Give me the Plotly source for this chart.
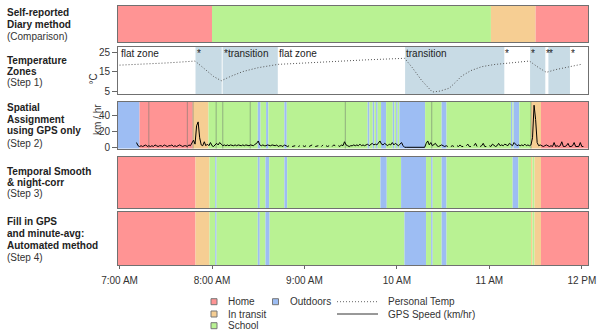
import plotly.graph_objects as go


def t(s):
    h, m = s.split(":")
    return int(h) * 60 + float(m)


# ---------------- data ----------------
X_START, X_END = "6:59", "12:04"
tick_times = ["7:00", "8:00", "9:00", "10:00", "11:00", "12:00"]
tick_labels = ["7:00 AM", "8:00 AM", "9:00 AM", "10 AM", "11 AM", "12 PM"]

categories = ["Home", "In transit", "School", "Outdoors"]
cat_colors = ["#FF9494", "#F6CE93", "#B9F293", "#9DBDF3"]

diary_segments = [
    ("6:59", "8:00", "Home"), ("8:00", "11:01", "School"),
    ("11:01", "11:30", "In transit"), ("11:30", "12:04", "Home"),
]

gps_segments = [
    ("6:59", "7:13", "Outdoors"), ("7:13", "7:47.5", "Home"),
    ("7:47.5", "7:57.7", "In transit"), ("7:57.7", "8:29.7", "School"),
    ("8:29.7", "8:31.5", "Outdoors"), ("8:31.5", "8:35.1", "School"),
    ("8:35.1", "8:36.6", "Outdoors"), ("8:36.6", "8:47", "School"),
    ("8:47", "8:48.5", "Outdoors"), ("8:48.5", "9:41", "School"),
    ("9:41", "9:42.2", "Outdoors"), ("9:42.2", "9:44.3", "School"),
    ("9:44.3", "9:45.4", "Outdoors"), ("9:45.4", "9:46.5", "School"),
    ("9:46.5", "9:47.5", "Outdoors"), ("9:47.5", "9:49.7", "School"),
    ("9:49.7", "9:53", "Outdoors"), ("9:53", "9:57.3", "School"),
    ("9:57.3", "9:58.4", "Outdoors"), ("9:58.4", "9:59.5", "School"),
    ("9:59.5", "10:00.5", "Outdoors"), ("10:00.5", "10:01.6", "School"),
    ("10:01.6", "10:18.3", "Outdoors"), ("10:18.3", "10:29", "School"),
    ("10:29", "10:32.2", "Outdoors"), ("10:32.2", "11:14", "School"),
    ("11:14", "11:15", "Outdoors"), ("11:15", "11:15.7", "School"),
    ("11:15.7", "11:19.4", "Outdoors"), ("11:19.4", "11:27", "School"),
    ("11:27", "11:33.5", "In transit"), ("11:33.5", "12:04", "Home"),
]
gps_breaks = ["7:19", "7:44", "7:47.7", "8:02.7", "8:07", "8:24.8", "9:26.5", "10:22.6", "11:27"]

smooth_segments = [
    ("6:59", "7:49.3", "Home"), ("7:49.3", "7:58.4", "In transit"),
    ("7:58.4", "8:02.1", "School"), ("8:02.1", "8:03", "Outdoors"),
    ("8:03", "8:29.7", "School"), ("8:29.7", "8:31", "Outdoors"),
    ("8:31", "8:34.7", "School"), ("8:34.7", "8:37.1", "Outdoors"),
    ("8:37.1", "8:47", "School"), ("8:47", "8:48.8", "Outdoors"),
    ("8:48.8", "9:49.3", "School"), ("9:49.3", "9:53.4", "Outdoors"),
    ("9:53.4", "10:02.7", "School"), ("10:02.7", "10:18.9", "Outdoors"),
    ("10:18.9", "10:22.2", "School"), ("10:22.2", "10:23.2", "Outdoors"),
    ("10:23.2", "10:29", "School"), ("10:29", "10:32.2", "Outdoors"),
    ("10:32.2", "11:15.1", "School"), ("11:15.1", "11:18.8", "Outdoors"),
    ("11:18.8", "11:27", "School"), ("11:27", "11:28", "In transit"),
    ("11:28", "11:29.3", "School"), ("11:29.3", "11:33.5", "In transit"),
    ("11:33.5", "12:04", "Home"),
]

auto_segments = [
    ("6:59", "7:49.3", "Home"), ("7:49.3", "7:58.4", "In transit"),
    ("7:58.4", "8:02.1", "School"), ("8:02.1", "8:03", "Outdoors"),
    ("8:03", "8:29.7", "School"), ("8:29.7", "8:31", "Outdoors"),
    ("8:31", "8:34.7", "School"), ("8:34.7", "8:37.4", "Outdoors"),
    ("8:37.4", "10:04.9", "School"), ("10:04.9", "10:18.9", "Outdoors"),
    ("10:18.9", "10:22.2", "School"), ("10:22.2", "10:23.2", "Outdoors"),
    ("10:23.2", "10:29", "School"), ("10:29", "10:32.2", "Outdoors"),
    ("10:32.2", "11:27", "School"), ("11:27", "11:28", "In transit"),
    ("11:28", "11:29.3", "School"), ("11:29.3", "11:33.5", "In transit"),
    ("11:33.5", "12:04", "Home"),
]

# temperature zones: (label, start, end, shaded)
temp_zones = [
    ("flat zone", "6:59", "7:49.3", False),
    ("*", "7:49.3", "8:06.3", True),
    ("*transition", "8:06.9", "8:42.7", True),
    ("flat zone", "8:42.7", "10:05.3", False),
    ("transition", "10:05.3", "11:09.7", True),
    ("*", "11:09.7", "11:26.4", False),
    ("*", "11:26.4", "11:36.3", True),
    ("*", "11:36.3", "11:38.3", False),
    ("*", "11:38.3", "11:52.3", True),
    ("*", "11:52.3", "12:04", False),
]

temp_times = ["7:00", "7:10", "7:20", "7:30", "7:40", "7:49", "7:55", "8:01", "8:06",
              "8:12", "8:20", "8:30", "8:43", "9:00", "9:20", "9:40", "10:05", "10:10",
              "10:16", "10:23", "10:28", "10:34", "10:38", "10:42", "10:48", "10:55",
              "11:03", "11:10", "11:18", "11:26", "11:32", "11:37", "11:43", "11:50", "11:59.5"]
temp_values = [18.3, 18.6, 19.0, 19.4, 19.9, 20.4, 16.5, 12.5, 10.3,
               12.5, 15.0, 17.0, 18.7, 19.5, 20.3, 21.0, 21.8, 17.0,
               10.5, 4.5, 5.0, 6.5, 9.5, 12.7, 15.5, 17.5,
               18.6, 19.2, 19.8, 20.4, 17.0, 14.6, 16.0, 17.3, 18.7]

gps_first_minute = "7:11"
gps_speed = [
    6, 2, 1, 2, 1, 2, 3, 1, 2, 1,
    2, 1, 3, 2, 1, 2, 2, 1, 3, 2,
    1, 2, 2, 3, 1, 2, 1, 2, 3, 2,
    1, 2, 2, 1, 3, 2, 5, 9, 4, 27,
    32, 12, 3, 2, 7, 2, 4, 2, 6, 2,
    1, 3, 5, 3, 6, 4, 2, 3, 2, 3,
    2, 3, 2, 2, 3, 2, 3, 2, 2, 3,
    2, 3, 2, 2, 3, 2, 2, 4, 5, 8,
    3, 2, 3, 2, 2, 3, 2, 2, 3, 2,
    2, 3, 1, 2, 2, 1, 3, 2, 1, 2,
    None, 1, 2, 2, None, 1, 2, None, 2, 1,
    2, None, 1, 2, 3, None, 1, 2, 2, None,
    1, 3, None, 2, 1, 2, None, 1, 3, 2,
    None, 2, 1, 3, 2, 7, 3, 2, 1, 2,
    2, 3, 2, 3, 2, 4, 2, 3, 2, 3,
    4, 2, 3, 5, 3, 4, 3, 6, 8, 4,
    3, 5, 3, 2, 4, 3, 6, 3, 5, 3,
    2, 4, 6, 2, 0, 0, 0, 0, 0, 0,
    0, 0, 0, 0, 0, 0, 0, 0, 5, 8,
    3, 6, 2, 4, 5, 2, 1, 2, 3, 2,
    1, 2, 1, None, 1, 2, 1, None, 2, 1,
    3, 1, 1, None, 2, 4, 1, 1, None, 2,
    5, 1, None, 1, 2, 5, 1, 1, None, 2,
    1, 4, 2, 1, 2, 5, 2, 3, 2, 4,
    3, 2, 5, 3, 2, 6, 4, 2, 3, 2,
    3, 2, 4, 2, 3, 2, 3, 12, 53, 35,
    6, 2, 3, 2, 1, 2, 3, 2, 1, 2,
    1, 6, 1, 2, 1, 2, 7, 1, 1, 2,
    5, 1, 1, 2, 6, 1, 1, 1, 6, 1,
    1,
]

row_labels = [
    [("Self-reported", True), ("Diary method", True), ("(Comparison)", False)],
    [("Temperature", True), ("Zones", True), ("(Step 1)", False)],
    [("Spatial", True), ("Assignment", True), ("using GPS only", True), ("(Step 2)", False)],
    [("Temporal Smooth", True), ("& night-corr", True), ("(Step 3)", False)],
    [("Fill in GPS", True), ("and minute-avg:", True), ("Automated method", True), ("(Step 4)", False)],
]

# ---------------- layout helpers ----------------
W, H = 600, 336
FONT = "Liberation Sans, Arial, sans-serif"
BORDER = "#707070"
ZONE_COLOR = "#C8DBE5"
color_of = dict(zip(categories, cat_colors))


def py(p):
    return 1 - p / H


def px(p):
    return p / W


x_dom = [px(118), px(588)]
panel_px = [(6, 42), (47, 94), (101.5, 148.5), (157, 208), (212, 265)]
label_px = [[13, 25, 36.7], [60, 71.5, 82.5], [107.7, 119.3, 131, 143],
            [171, 182.3, 194], [221.7, 233.3, 245, 257]]

fig = go.Figure()
shapes = []
annotations = []


def ax(i):
    return "" if i == 1 else str(i)


def add_segments(i, segs):
    for s, e, c in segs:
        shapes.append(dict(type="rect", xref="x" + ax(i), yref="y" + ax(i) + " domain",
                           x0=t(s), x1=t(e), y0=0, y1=1, fillcolor=color_of[c],
                           line=dict(width=0), layer="below"))


add_segments(1, diary_segments)
add_segments(3, gps_segments)
for b in gps_breaks:
    shapes.append(dict(type="line", xref="x3", yref="y3 domain", x0=t(b), x1=t(b), y0=0, y1=1,
                       line=dict(color="rgba(110,120,110,0.55)", width=1), layer="below"))
add_segments(4, smooth_segments)
add_segments(5, auto_segments)

for lab, s, e, shaded in temp_zones:
    if shaded:
        shapes.append(dict(type="rect", xref="x2", yref="y2 domain", x0=t(s), x1=t(e),
                           y0=0, y1=1, fillcolor=ZONE_COLOR, line=dict(width=0), layer="below"))
    annotations.append(dict(text=lab, xref="x2", yref="y2 domain", x=max(t(s), t("7:00")) - 0.6, y=1,
                            xanchor="left", yanchor="top", showarrow=False, yshift=1,
                            font=dict(size=10, color="#222", family=FONT)))

# traces
fig.add_trace(go.Scatter(x=[t(s) for s in temp_times], y=temp_values, mode="lines",
                         line=dict(color="#555555", width=1, dash="1px,2px"),
                         xaxis="x2", yaxis="y2", showlegend=False, hoverinfo="skip"))
g0 = t(gps_first_minute)
fig.add_trace(go.Scatter(x=[g0 + k for k in range(len(gps_speed))], y=gps_speed, mode="lines",
                         line=dict(color="black", width=1), connectgaps=False,
                         xaxis="x3", yaxis="y3", showlegend=False, hoverinfo="skip"))

layout_axes = {}
for i in range(1, 6):
    top, bot = panel_px[i - 1]
    last = i == 5
    layout_axes["xaxis" + ax(i)] = dict(
        domain=x_dom, range=[t(X_START), t(X_END)], anchor="y" + ax(i), automargin=False,
        showgrid=False, zeroline=False, showline=True, mirror=True, linecolor=BORDER, linewidth=1,
        tickvals=[t(v) for v in tick_times], ticktext=tick_labels,
        showticklabels=last, ticks="outside" if last else "", ticklen=3, tickcolor="#666",
        ticklabelstandoff=3,
        tickfont=dict(size=10, color="#333", family=FONT))
    ydict = dict(domain=[py(bot), py(top)], anchor="x" + ax(i), automargin=False,
                 showgrid=False, zeroline=False,
                 showline=True, mirror=True, linecolor=BORDER, linewidth=1,
                 tickfont=dict(size=10, color="#333", family=FONT))
    if i == 2:
        ydict.update(range=[3.5, 27.6], tickvals=[5, 15, 25], ticks="outside", ticklen=5, tickcolor="#666")
    elif i == 3:
        ydict.update(range=[-1.5, 57.7], tickvals=[0, 20, 40], ticks="outside", ticklen=5, tickcolor="#666")
    else:
        ydict.update(range=[0, 1], showticklabels=False, ticks="")
    layout_axes["yaxis" + ax(i)] = ydict

# row labels
for lines, ys in zip(row_labels, label_px):
    for (txt, bold), yy in zip(lines, ys):
        annotations.append(dict(text=f"<b>{txt}</b>" if bold else txt, xref="paper", yref="paper",
                                x=px(5), y=py(yy), xanchor="left", yanchor="middle", showarrow=False,
                                font=dict(size=10, color="#222" if bold else "#333", family=FONT)))

# axis titles
annotations.append(dict(text="°C", xref="paper", yref="paper", x=px(85), y=py(71.5), textangle=-90,
                        showarrow=False, font=dict(size=10, color="#333", family=FONT)))
annotations.append(dict(text="km / hr", xref="paper", yref="paper", x=px(89.5), y=py(120), textangle=-90,
                        showarrow=False, font=dict(size=10, color="#333", family=FONT)))

# legend (drawn manually)
legend_boxes = [("Home", 211, 301.7), ("In transit", 211, 314), ("School", 211, 325.7), ("Outdoors", 272.5, 301.7)]
for name, bx, by in legend_boxes:
    shapes.append(dict(type="rect", xref="paper", yref="paper", x0=px(bx), x1=px(bx + 6),
                       y0=py(by + 3), y1=py(by - 3), fillcolor=color_of[name],
                       line=dict(color="#777", width=1)))
    annotations.append(dict(text=name, xref="paper", yref="paper", x=px(bx + 15), y=py(by),
                            xanchor="left", yanchor="middle", showarrow=False,
                            font=dict(size=10, color="#333", family=FONT)))
legend_lines = [("Personal Temp", "1px,2px", "#666", 301.7), ("GPS Speed (km/hr)", "solid", "#333", 314)]
for name, dash, col, ly in legend_lines:
    shapes.append(dict(type="line", xref="paper", yref="paper", x0=px(337), x1=px(378),
                       y0=py(ly), y1=py(ly), line=dict(color=col, width=1, dash=dash)))
    annotations.append(dict(text=name, xref="paper", yref="paper", x=px(386), y=py(ly),
                            xanchor="left", yanchor="middle", showarrow=False,
                            font=dict(size=10, color="#333", family=FONT)))

fig.update_layout(width=W, height=H, margin=dict(l=0, r=0, t=0, b=0, autoexpand=False),
                  paper_bgcolor="white", plot_bgcolor="white", showlegend=False,
                  shapes=shapes, annotations=annotations, font=dict(family=FONT),
                  **layout_axes)
fig.write_html("out.html", config={"displayModeBar": False},
               post_script="document.body.style.margin='0';document.body.style.overflow='hidden';")
